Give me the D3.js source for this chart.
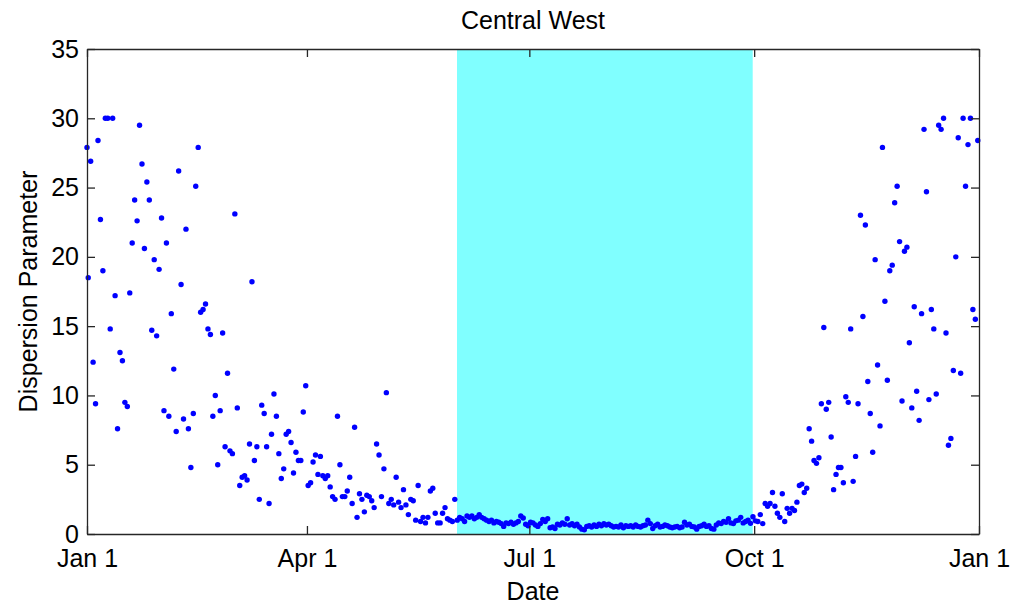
<!DOCTYPE html>
<html>
<head>
<meta charset="utf-8">
<script src="https://cdn.jsdelivr.net/npm/d3@7"></script>
<style>
  body { margin: 0; background: #fff; }
  svg { display: block; font-family: "Liberation Sans", Arial, sans-serif; }
</style>
</head>
<body>
<svg width="1019" height="610"></svg>
<script>
// point on the Jan 1 axis line, then one value per day (Jan .. Dec)
const edgeValue = [27.9];
const janToMar = [
  18.5, 26.9, 12.4, 9.4, 28.4, 22.7, 19.0, 30.0, 30.0, 14.8,
  30.0, 17.2, 7.6, 13.1, 12.5, 9.5, 9.2, 17.4, 21.0, 24.1,
  22.6, 29.5, 26.7, 20.6, 25.4, 24.1, 14.7, 19.8, 14.3, 19.1,
  22.8, 8.9, 21.0, 8.5, 15.9, 11.9, 7.4, 26.2, 18.0, 8.3,
  22.0, 7.6, 4.8, 8.7, 25.1, 27.9, 16.0, 16.2, 16.6, 14.8,
  14.4, 8.5, 10.0, 5.0, 8.9, 14.5, 6.3, 11.6, 6.0, 5.8,
  23.1, 9.1, 3.5, 4.1, 4.2, 3.9, 6.5, 18.2, 5.3, 6.3,
  2.5, 9.3, 8.7, 6.3, 2.2, 7.2, 10.1, 8.5, 5.8, 4.0,
  4.7, 7.2, 7.4, 6.6, 4.4, 5.9, 5.3, 5.3, 8.8, 10.7
];
const aprToJun = [
  3.5, 3.7, 5.2, 5.7, 4.3, 5.6, 4.2, 4.0, 4.2, 3.4,
  2.7, 2.5, 8.5, 5.0, 2.7, 2.7, 3.1, 4.1, 2.2, 7.7,
  1.2, 2.9, 2.5, 1.6, 2.8, 2.7, 2.4, 1.9, 6.5, 5.7,
  2.7, 4.7, 10.2, 2.2, 2.5, 2.1, 4.1, 2.3, 1.9, 3.2,
  2.1, 1.4, 2.5, 2.4, 1.0, 3.5, 0.9, 1.2, 0.8, 1.2,
  3.1, 3.3, 1.5, 0.8, 0.8, 1.5, 1.9, 1.1, 1.0, 0.9,
  2.5, 1.0, 1.2, 1.1, 0.9, 1.3, 1.2, 1.3, 1.1, 1.2,
  1.4, 1.2, 1.1, 1.0, 0.9, 1.0, 0.8, 0.9, 0.85, 0.75,
  0.55, 0.8, 0.75, 0.85, 0.7, 0.8, 0.9, 1.3, 1.15, 0.7,
  0.6
];
const julToSep = [
  0.85, 0.8, 0.65, 0.55, 0.75, 1.05, 0.9, 1.1, 0.45,
  0.5, 0.4, 0.7, 0.65, 0.8, 0.7, 1.1, 0.65, 0.75, 0.6,
  0.7, 0.5, 0.35, 0.3, 0.55, 0.6, 0.5, 0.65, 0.55, 0.7,
  0.6, 0.75, 0.65, 0.7, 0.6, 0.5, 0.55, 0.5, 0.65, 0.45,
  0.6, 0.55, 0.6, 0.5, 0.65, 0.55, 0.5, 0.6, 0.65, 1.0,
  0.75, 0.4, 0.6, 0.7, 0.5, 0.55, 0.65, 0.6, 0.5, 0.45,
  0.5, 0.55, 0.45, 0.5, 0.85, 0.65, 0.7, 0.55, 0.5, 0.35,
  0.55, 0.6, 0.7, 0.55, 0.6, 0.4, 0.35, 0.65, 0.8, 0.75,
  0.9, 0.85, 1.1, 0.8, 0.75, 0.95, 1.0, 1.2, 0.8, 0.9,
  1.0, 0.77, 1.25
];
const octToDec = [
  0.95, 0.9, 1.4, 0.75, 2.2, 2.0, 2.2,
  3.0, 2.0, 1.5, 1.2, 2.9, 0.9, 1.85, 1.5, 1.85, 1.7,
  2.3, 3.5, 3.6, 3.0, 3.3, 7.6, 6.7, 5.3, 5.1, 5.5,
  9.4, 14.9, 9.0, 9.5, 7.0, 3.2, 4.3, 4.8, 4.8, 3.7,
  9.9, 9.5, 14.8, 3.8, 5.6, 9.4, 23.0, 15.7, 22.3, 11.0,
  8.7, 5.9, 19.8, 12.2, 7.8, 27.9, 16.8, 11.1, 19.0, 19.4,
  23.9, 25.1, 21.1, 9.6, 20.4, 20.7, 13.8, 9.1, 16.4, 10.3,
  8.2, 15.9, 29.2, 24.7, 9.7, 16.2, 14.8, 10.1, 29.5, 29.2,
  30.0, 14.5, 6.4, 6.9, 11.8, 20.0, 28.6, 11.6, 30.0, 25.1,
  28.1, 30.0, 16.2, 15.5, 28.4
];

const tickDays = [0, 90, 181, 273, 365];
const tickLabels = ["Jan 1", "Apr 1", "Jul 1", "Oct 1", "Jan 1"];
const yTicks = [0, 5, 10, 15, 20, 25, 30, 35];
const shadedDays = [151.4, 272.4];   // Jun 1 .. Sep 30

const svg = d3.select("svg"),
    width = +svg.attr("width"),
    height = +svg.attr("height");

const margin = {top: 49, right: 40, bottom: 76, left: 87};
const plotW = width - margin.left - margin.right,
    plotH = height - margin.top - margin.bottom;
const fontSize = "25px";

const x = d3.scaleLinear().domain([0, 365]).range([0, plotW]);
const y = d3.scaleLinear().domain([0, 35]).range([plotH, 0]);

const daily = janToMar.concat(aprToJun, julToSep, octToDec);
const points = edgeValue.map(v => ({day: 0, value: v}))
    .concat(daily.map((v, i) => ({day: i + 0.5, value: v})));

const g = svg.append("g")
    .attr("transform", `translate(${margin.left},${margin.top})`);

g.append("rect")
    .attr("x", x(shadedDays[0]))
    .attr("y", 0)
    .attr("width", x(shadedDays[1]) - x(shadedDays[0]))
    .attr("height", plotH)
    .attr("fill", "#80ffff");

g.append("g")
  .selectAll("circle")
  .data(points)
  .enter().append("circle")
    .attr("cx", d => x(d.day))
    .attr("cy", d => y(d.value))
    .attr("r", 2.7)
    .attr("fill", "#0000ff");

// axes, MATLAB style: ticks pointing inward on all four sides
const tickLen = 8;
const axisColor = "#262626";

const xAxisBottom = g.append("g")
    .attr("transform", `translate(0,${plotH})`)
    .call(d3.axisBottom(x).tickValues(tickDays)
      .tickFormat((d, i) => tickLabels[i]).tickSizeInner(-tickLen).tickSizeOuter(0).tickPadding(15));
const xAxisTop = g.append("g")
    .call(d3.axisTop(x).tickValues(tickDays)
      .tickFormat("").tickSizeInner(-tickLen).tickSizeOuter(0));
const yAxisLeft = g.append("g")
    .call(d3.axisLeft(y).tickValues(yTicks)
      .tickSizeInner(-tickLen).tickSizeOuter(0).tickPadding(8));
const yAxisRight = g.append("g")
    .attr("transform", `translate(${plotW},0)`)
    .call(d3.axisRight(y).tickValues(yTicks)
      .tickFormat("").tickSizeInner(-tickLen).tickSizeOuter(0));

[xAxisBottom, xAxisTop, yAxisLeft, yAxisRight].forEach(a => {
  a.select(".domain").attr("stroke", axisColor).attr("stroke-width", 1.3);
  a.selectAll(".tick line").attr("stroke", axisColor).attr("stroke-width", 1.3);
  a.selectAll("text").attr("fill", "#000").attr("font-size", fontSize)
    .attr("font-family", "'Liberation Sans', Arial, sans-serif");
});

svg.append("text")
    .attr("x", margin.left + plotW / 2)
    .attr("y", 29)
    .attr("text-anchor", "middle")
    .attr("font-size", fontSize)
    .text("Central West");

svg.append("text")
    .attr("x", margin.left + plotW / 2)
    .attr("y", 600)
    .attr("text-anchor", "middle")
    .attr("font-size", fontSize)
    .text("Date");

svg.append("text")
    .attr("transform", `translate(37,${margin.top + plotH / 2}) rotate(-90)`)
    .attr("text-anchor", "middle")
    .attr("font-size", fontSize)
    .text("Dispersion Parameter");
</script>
</body>
</html>
